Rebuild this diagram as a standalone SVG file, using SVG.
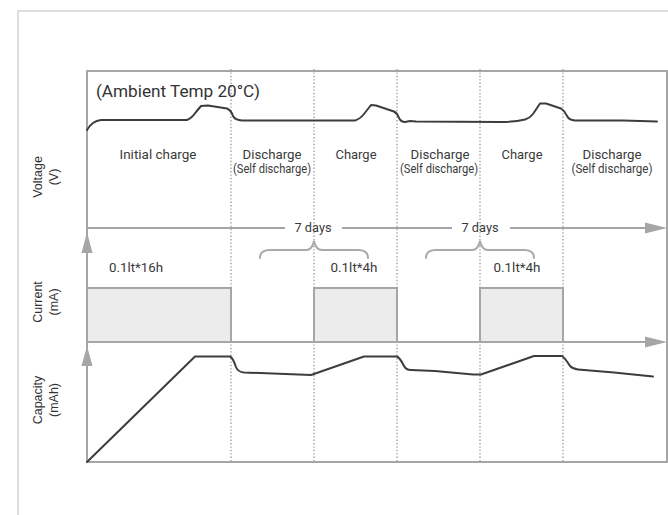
<svg xmlns="http://www.w3.org/2000/svg" width="668" height="515" viewBox="0 0 668 515">
<style>
.frame{fill:none;stroke:#d3d3d3;stroke-width:1.5}
.axis{fill:none;stroke:#a6a6a6;stroke-width:2}
.ah{fill:#a6a6a6;stroke:none}
.dot{stroke:#9a9a9a;stroke-width:1.3;stroke-dasharray:1.4 2}
.bar{fill:#ececec;stroke:#a6a6a6;stroke-width:2}
.curve{fill:none;stroke:#3d3d3d;stroke-width:2;stroke-linejoin:round;stroke-linecap:round}
.brace{fill:none;stroke:#aaaaaa;stroke-width:2;stroke-linecap:round}
.t{font-family:Roboto,"Liberation Sans",sans-serif;font-size:13px;fill:#3a3a3a;text-anchor:middle}
.s{font-family:Roboto,"Liberation Sans",sans-serif;font-size:12.5px;fill:#3a3a3a;text-anchor:middle}
.ax{font-family:"Liberation Sans",Arial,sans-serif;font-size:12.5px;fill:#333;text-anchor:middle}
</style>
<g id="outer-frame">
<path class="frame" d="M18,515 V11 H668"/>
</g>
<g id="grid">
<line class="dot" x1="231" y1="69" x2="231" y2="463"/>
<line class="dot" x1="314" y1="69" x2="314" y2="463"/>
<line class="dot" x1="397" y1="69" x2="397" y2="463"/>
<line class="dot" x1="480" y1="69" x2="480" y2="463"/>
<line class="dot" x1="563" y1="69" x2="563" y2="463"/>
</g>
<g id="current-bars">
<rect class="bar" x="87" y="288" width="144" height="54"/>
<rect class="bar" x="314" y="288" width="83" height="54"/>
<rect class="bar" x="480" y="288" width="83" height="54"/>
</g>
<g id="connectors">
<path class="axis" d="M87,462 V71 H667 V462 H87"/>
<line class="axis" x1="87" y1="228" x2="285" y2="228"/>
<line class="axis" x1="342" y1="228" x2="452" y2="228"/>
<line class="axis" x1="510" y1="228" x2="648" y2="228"/>
<polygon class="ah" points="645,222.5 667,228 645,233.5"/>
<line class="axis" x1="87" y1="342" x2="648" y2="342"/>
<polygon class="ah" points="645,336.5 667,342 645,347.5"/>
<polygon class="ah" points="81.5,253 87,232 92.5,253"/>
<polygon class="ah" points="81.5,366 87,346 92.5,366"/>
<path class="brace" d="M260,258 Q260,250 270,250 L306,250 Q312,250 314,241 Q316,250 322,250 L358,250 Q368,250 368,258"/>
<path class="brace" d="M426,258 Q426,250 436,250 L472,250 Q478,250 480,241 Q482,250 488,250 L524,250 Q534,250 534,258"/>
</g>
<g id="voltage-curve">
<path class="curve" d="M87,130 Q92,121 101,120 L187,120 Q192,118 196,112 L201,106 L208,105.5 L227,108.5 Q231,110 233,116 Q235,120 242,120.5 L355,120.5 Q360,119 364,114 L371,105 L376,105.5 L394,111.5 Q397,113 399,118 Q401,122 405,122 L410,121 L416,121.5 L500,122 Q515,122 525,119.5 Q530,118 533,114 L540,103.5 L546,103.5 L561,108.5 Q565,111 567,116 Q569,120 575,120.5 L623,120.5 L657,121.5"/>
</g>
<g id="capacity-curve">
<path class="curve" d="M87,462 L195,356.5 L230,356.5 Q233,358 236,367 Q238,372 244,372.5 L311,375 L364,356.5 L397,356.5 Q400,358 404,366 Q406,370 411,370 L435,371 L473,374.5 L481,374.5 L534,356 L562,356 Q565,358 570,366 Q573,369 578,369.5 L614,372.5 L653,376.5"/>
</g>
<g id="title">
<text x="96" y="97" font-family="Roboto,'Liberation Sans',sans-serif" font-size="16" fill="#333" textLength="164" lengthAdjust="spacingAndGlyphs">(Ambient Temp 20°C)</text>
</g>
<g id="phase-labels">
<text class="t" x="158" y="158.5" textLength="77" lengthAdjust="spacingAndGlyphs">Initial charge</text>
<text class="t" x="272" y="158.5" textLength="59" lengthAdjust="spacingAndGlyphs">Discharge</text>
<text class="s" x="272" y="173" textLength="78" lengthAdjust="spacingAndGlyphs">(Self discharge)</text>
<text class="t" x="356" y="158.5" textLength="41" lengthAdjust="spacingAndGlyphs">Charge</text>
<text class="t" x="440" y="158.5" textLength="59" lengthAdjust="spacingAndGlyphs">Discharge</text>
<text class="s" x="439" y="173" textLength="78" lengthAdjust="spacingAndGlyphs">(Self discharge)</text>
<text class="t" x="522" y="158.5" textLength="41" lengthAdjust="spacingAndGlyphs">Charge</text>
<text class="t" x="612" y="158.5" textLength="59" lengthAdjust="spacingAndGlyphs">Discharge</text>
<text class="s" x="612" y="173" textLength="81" lengthAdjust="spacingAndGlyphs">(Self discharge)</text>
</g>
<g id="time-labels">
<text class="t" x="313" y="232" textLength="37" lengthAdjust="spacingAndGlyphs">7 days</text>
<text class="t" x="480" y="232" textLength="37" lengthAdjust="spacingAndGlyphs">7 days</text>
</g>
<g id="current-labels">
<text class="t" x="136" y="272" textLength="54" lengthAdjust="spacingAndGlyphs">0.1lt*16h</text>
<text class="t" x="354" y="272" textLength="47" lengthAdjust="spacingAndGlyphs">0.1lt*4h</text>
<text class="t" x="517" y="272" textLength="47" lengthAdjust="spacingAndGlyphs">0.1lt*4h</text>
</g>
<g id="axis-voltage">
<text class="ax" transform="translate(41.5,177) rotate(-90)">Voltage</text>
<text class="ax" transform="translate(58,177) rotate(-90)">(V)</text>
</g>
<g id="axis-current">
<text class="ax" transform="translate(41.5,302) rotate(-90)">Current</text>
<text class="ax" transform="translate(58,302) rotate(-90)">(mA)</text>
</g>
<g id="axis-capacity">
<text class="ax" transform="translate(41.5,400) rotate(-90)">Capacity</text>
<text class="ax" transform="translate(58,400) rotate(-90)">(mAh)</text>
</g>
</svg>
